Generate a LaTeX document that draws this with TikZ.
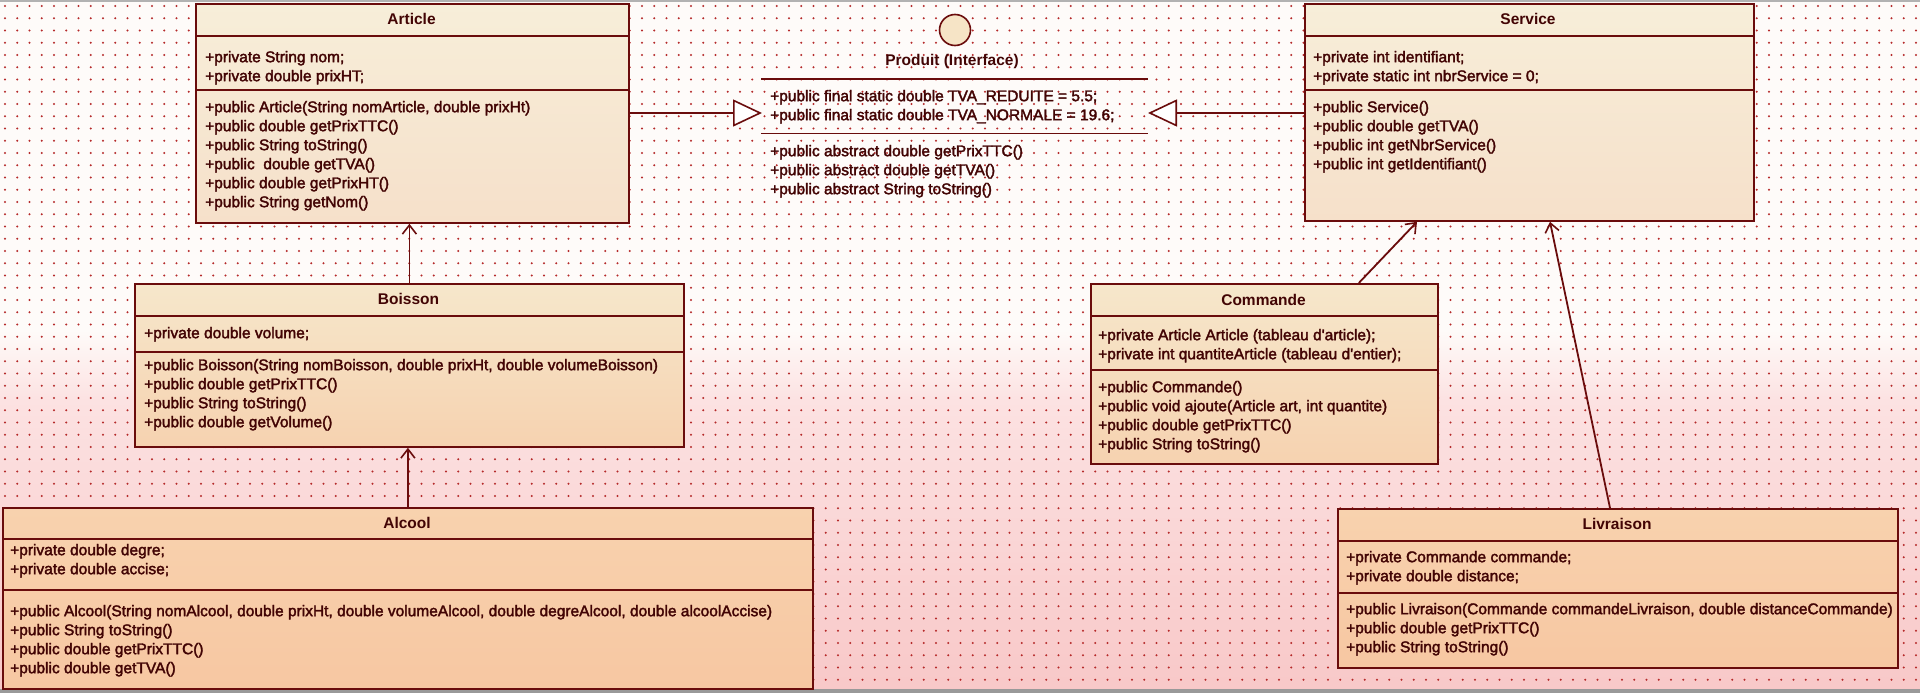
\documentclass[tikz,border=0pt]{standalone}
\usepackage{fontspec}
\setmainfont{Liberation Sans}
\newfontfamily\umlfont{Liberation Sans}[FakeBold=2.2]
\usetikzlibrary{arrows.meta}
\definecolor{umlline}{HTML}{6A0C0C}
\definecolor{umltext}{HTML}{420404}
\definecolor{dotcol}{HTML}{B52A2A}
\definecolor{bgtop}{HTML}{FEFBF9}
\definecolor{bgmid}{HTML}{FCE2E2}
\definecolor{bgbot}{HTML}{F8C8C8}
\definecolor{creamA}{HTML}{F7EED9}
\definecolor{creamB}{HTML}{F6E0CA}
\definecolor{midA}{HTML}{F6E7CB}
\definecolor{midB}{HTML}{F6D2B0}
\definecolor{lowA}{HTML}{F8D2AE}
\definecolor{lowB}{HTML}{F7C7A2}
\definecolor{ballfill}{HTML}{F6E4C6}
\begin{document}
\begin{tikzpicture}[x=1pt,y=-1pt,
  box/.style={draw=umlline, line width=1.8pt, inner sep=0pt, anchor=north west},
  txt/.style={text=umltext, inner sep=0pt, anchor=north west, align=left, font=\umlfont\fontsize{15.5}{19}\selectfont},
  ttl/.style={text=umltext, inner sep=0pt, font=\fontsize{15.5}{19}\selectfont\bfseries},
  sep/.style={draw=umlline, line width=1.6pt},
  inh/.style={draw=umlline, line width=1.8pt, -{Straight Barb[length=9pt,width=14pt,line width=1.6pt]}},
  real/.style={draw=umlline, line width=1.6pt, -{Triangle[length=29pt,width=27pt,fill=white,line width=1.6pt]}},
  dotrow/.style={draw=dotcol, line width=2.2pt, line cap=round, dash pattern=on 0pt off 12.25pt}]
\useasboundingbox (0,0) rectangle (1920,693);
% background
\fill[bgtop] (0,0) rectangle (1920,332);
\shade[top color=bgtop, bottom color=bgmid] (0,330) rectangle (1920,400);
\shade[top color=bgmid, bottom color=bgbot] (0,399) rectangle (1920,693);
\foreach \j in {0,...,56} {\draw[dotrow] (5,{6+12.25*\j}) -- (1920,{6+12.25*\j});}
\fill[gray!60] (0,0) rectangle (1920,2);
\fill[gray!80] (0,689) rectangle (1920,693);

% ---------- Article ----------
\node[box, minimum width=433, minimum height=219, top color=creamA, bottom color=creamB] (article) at (195,3) {};
\draw[sep] (article.west |- 0,36) -- (article.east |- 0,36);
\draw[sep] (article.west |- 0,90) -- (article.east |- 0,90);
\node[ttl] (articleT) at (411.5,19) {Article};
\node[txt] (articleA) at (205,48.7) {\strut+private String nom;\\\strut+private double prixHT;};
\node[txt] (articleM) at (205,98.7) {\strut+public Article(String nomArticle, double prixHt)\\\strut+public double getPrixTTC()\\\strut+public String toString()\\\strut+public\ \ double getTVA()\\\strut+public double getPrixHT()\\\strut+public String getNom()};

% ---------- Service ----------
\node[box, minimum width=449, minimum height=217, top color=creamA, bottom color=creamB] (service) at (1304,3) {};
\draw[sep] (service.west |- 0,36) -- (service.east |- 0,36);
\draw[sep] (service.west |- 0,90) -- (service.east |- 0,90);
\node[ttl] (serviceT) at (1528,19) {Service};
\node[txt] (serviceA) at (1313,48.7) {\strut+private int identifiant;\\\strut+private static int nbrService = 0;};
\node[txt] (serviceM) at (1313,98.7) {\strut+public Service()\\\strut+public double getTVA()\\\strut+public int getNbrService()\\\strut+public int getIdentifiant()};

% ---------- Produit (Interface) ----------
\node[draw=umlline, line width=1.6pt, circle, minimum size=31, inner sep=0pt, fill=ballfill] (ball) at (955,30) {};
\node[ttl] (produitT) at (952,61) {Produit (Interface)};
\node[inner sep=0pt, minimum width=387, minimum height=54, anchor=north west] (produit) at (761,79) {};
\draw[sep] (produit.north west) -- (produit.north east);
\draw[sep] (produit.south west) -- (produit.south east);
\node[txt] (produitA) at (770,87.7) {\strut+public final static double TVA\_REDUITE = 5.5;\\\strut+public final static double TVA\_NORMALE = 19.6;};
\node[txt] (produitM) at (770,142.7) {\strut+public abstract double getPrixTTC()\\\strut+public abstract double getTVA()\\\strut+public abstract String toString()};
\coordinate (pL) at (762,113);
\coordinate (pR) at (1148,113);

% ---------- Boisson ----------
\node[box, minimum width=549, minimum height=163, top color=midA, bottom color=midB] (boisson) at (134,283) {};
\draw[sep] (boisson.west |- 0,316) -- (boisson.east |- 0,316);
\draw[sep] (boisson.west |- 0,352) -- (boisson.east |- 0,352);
\node[ttl] (boissonT) at (408.5,299) {Boisson};
\node[txt] (boissonA) at (144,324.7) {\strut+private double volume;};
\node[txt] (boissonM) at (144,356.7) {\strut+public Boisson(String nomBoisson, double prixHt, double volumeBoisson)\\\strut+public double getPrixTTC()\\\strut+public String toString()\\\strut+public double getVolume()};

% ---------- Commande ----------
\node[box, minimum width=347, minimum height=180, top color=midA, bottom color=midB] (commande) at (1090,283) {};
\draw[sep] (commande.west |- 0,316) -- (commande.east |- 0,316);
\draw[sep] (commande.west |- 0,370) -- (commande.east |- 0,370);
\node[ttl] (commandeT) at (1263.5,300) {Commande};
\node[txt] (commandeA) at (1098,326.7) {\strut+private Article Article (tableau d'article);\\\strut+private int quantiteArticle (tableau d'entier);};
\node[txt] (commandeM) at (1098,378.7) {\strut+public Commande()\\\strut+public void ajoute(Article art, int quantite)\\\strut+public double getPrixTTC()\\\strut+public String toString()};

% ---------- Alcool ----------
\node[box, minimum width=810, minimum height=181, top color=lowA, bottom color=lowB] (alcool) at (2,507) {};
\draw[sep] (alcool.west |- 0,539) -- (alcool.east |- 0,539);
\draw[sep] (alcool.west |- 0,590) -- (alcool.east |- 0,590);
\node[ttl] (alcoolT) at (407,523) {Alcool};
\node[txt] (alcoolA) at (10,541.7) {\strut+private double degre;\\\strut+private double accise;};
\node[txt] (alcoolM) at (10,602.7) {\strut+public Alcool(String nomAlcool, double prixHt, double volumeAlcool, double degreAlcool, double alcoolAccise)\\\strut+public String toString()\\\strut+public double getPrixTTC()\\\strut+public double getTVA()};

% ---------- Livraison ----------
\node[box, minimum width=560, minimum height=159, top color=lowA, bottom color=lowB] (livraison) at (1337,508) {};
\draw[sep] (livraison.west |- 0,541) -- (livraison.east |- 0,541);
\draw[sep] (livraison.west |- 0,593) -- (livraison.east |- 0,593);
\node[ttl] (livraisonT) at (1617,524) {Livraison};
\node[txt] (livraisonA) at (1346,548.7) {\strut+private Commande commande;\\\strut+private double distance;};
\node[txt] (livraisonM) at (1346,600.7) {\strut+public Livraison(Commande commandeLivraison, double distanceCommande)\\\strut+public double getPrixTTC()\\\strut+public String toString()};

% ---------- connectors ----------
\draw[real] (article.east |- pL) -- (pL);
\draw[real] (service.west |- pR) -- (pR);
\draw[inh] (boisson.north) -- (boisson.north |- article.south);
\draw[inh] (alcool.north) -- (alcool.north |- boisson.south);
\draw[inh] ([xshift=-80pt]commande.north east) -- ([xshift=113pt]service.south west);
\draw[inh] ([xshift=273pt]livraison.north west) -- ([xshift=246pt]service.south west);
\end{tikzpicture}
\end{document}
